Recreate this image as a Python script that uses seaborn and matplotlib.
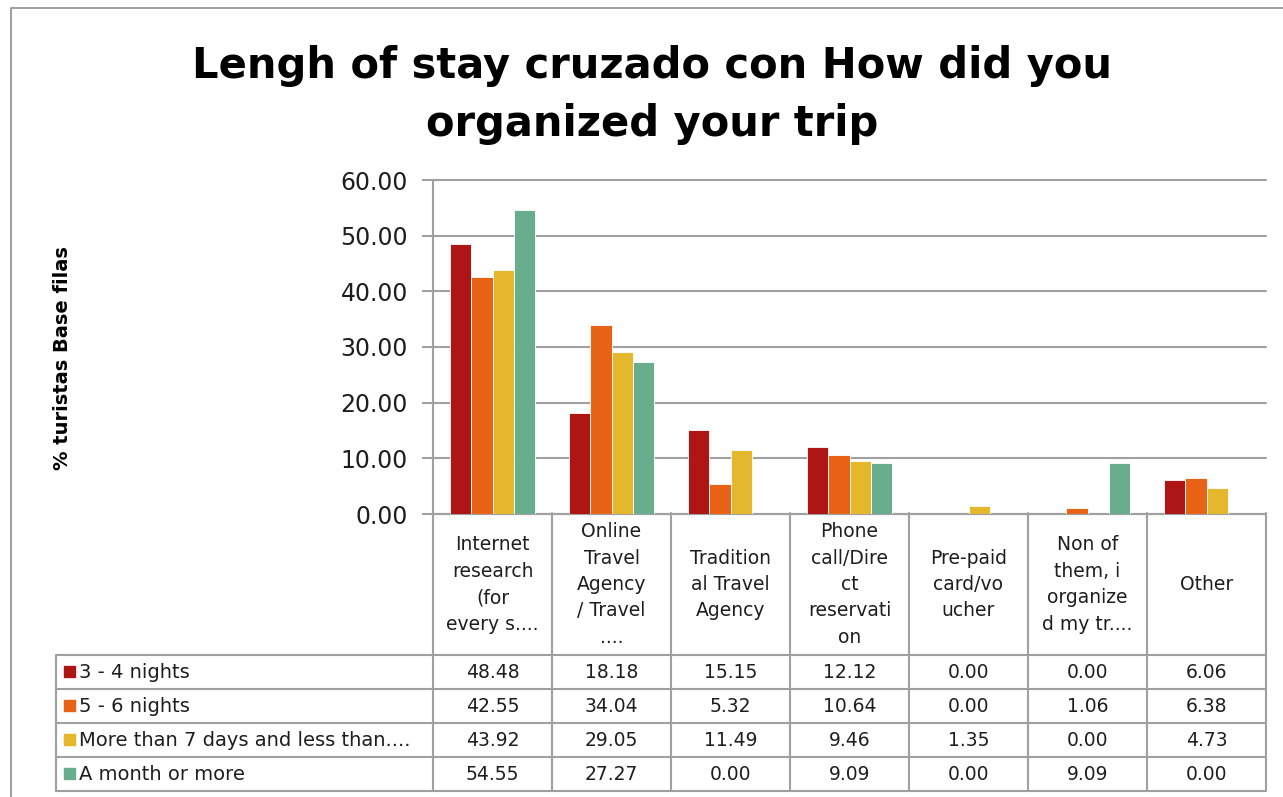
import numpy as np
import pandas as pd
import seaborn as sns
import matplotlib
matplotlib.use("Agg")
import matplotlib.pyplot as plt

categorias = ["Internet research (for every s....", "Online Travel Agency / Travel ....",
              "Traditional Travel Agency", "Phone call/Direct reservation",
              "Pre-paid card/voucher", "Non of them, i organized my tr....", "Other"]
etiquetas_cat = ["Internet\nresearch\n(for\nevery s....", "Online\nTravel\nAgency\n/ Travel\n....",
                 "Tradition\nal Travel\nAgency", "Phone\ncall/Dire\nct\nreservati\non",
                 "Pre-paid\ncard/vo\nucher", "Non of\nthem, i\norganize\nd my tr....", "Other"]
series = ["3 - 4 nights", "5 - 6 nights", "More than 7 days and less than....", "A month or more"]
noches_3_4 = [48.48, 18.18, 15.15, 12.12, 0.00, 0.00, 6.06]
noches_5_6 = [42.55, 34.04, 5.32, 10.64, 0.00, 1.06, 6.38]
mas_7_dias = [43.92, 29.05, 11.49, 9.46, 1.35, 0.00, 4.73]
un_mes = [54.55, 27.27, 0.00, 9.09, 0.00, 9.09, 0.00]
valores = [noches_3_4, noches_5_6, mas_7_dias, un_mes]
colores = ["#AE1616", "#E96316", "#E5B72C", "#69AD8F"]

df = pd.DataFrame({
    "cat": np.tile(categorias, len(series)),
    "serie": np.repeat(series, len(categorias)),
    "valor": np.concatenate(valores),
})

sns.set_style("white")
plt.rcParams["font.family"] = ["DejaVu Sans"]

W, H = 1283, 797
fig = plt.figure(figsize=(W / 100, H / 100), dpi=100)
gris = "#A0A0A0"
texto = "#1E1E1E"

# area del grafico en pixeles
x0, x1, ytop, ybot = 433, 1266, 180, 514
ax = fig.add_axes([x0 / W, (H - ybot) / H, (x1 - x0) / W, (ybot - ytop) / H])
sns.barplot(data=df, x="cat", y="valor", hue="serie", order=categorias, hue_order=series,
            palette=colores, saturation=1, width=0.72, gap=0, edgecolor="white", linewidth=0.6,
            legend=False, ax=ax, zorder=3)
ax.set_ylim(0, 60)
ax.set_xlim(-0.5, len(categorias) - 0.5)
ax.set_yticks(np.arange(0, 61, 10))
ax.set_yticklabels([f"{v:.2f}" for v in np.arange(0, 61, 10)], fontsize=17, color=texto)
ax.set_xticks([])
ax.set_xlabel("")
ax.set_ylabel("")
ax.yaxis.grid(True, color=gris, linewidth=1.5, zorder=0)
for gl in ax.get_ygridlines():
    gl.set_clip_on(False)
ax.set_axisbelow(True)
for s in ["top", "right"]:
    ax.spines[s].set_visible(False)
for s in ["left", "bottom"]:
    ax.spines[s].set_color(gris)
    ax.spines[s].set_linewidth(1.5)
ax.tick_params(axis="y", length=8, width=1.5, color=gris, pad=10, left=True)

# capa en pixeles para tabla, titulo y bordes
ov = fig.add_axes([0, 0, 1, 1], zorder=5)
ov.set_xlim(0, W)
ov.set_ylim(H, 0)
ov.axis("off")
ov.patch.set_visible(False)

# borde exterior
ov.plot([11, 11, W], [H, 8, 8], color="#8C8C8C", lw=1.2)

ov.text(652, 78, "Lengh of stay cruzado con How did you", ha="center", va="baseline",
        fontsize=30, fontweight="bold", color="black")
ov.text(652, 136, "organized your trip", ha="center", va="baseline",
        fontsize=30, fontweight="bold", color="black")

fig.text(62 / W, 1 - 358 / H, "% turistas Base filas", rotation=90, ha="center", va="center",
         fontsize=14, fontweight="bold", color="black")

# tabla de datos
cw = (x1 - x0) / len(categorias)
filas = [655, 689, 723, 757, 791]
xl = 56
for k in range(len(categorias) + 1):
    ov.plot([x0 + k * cw] * 2, [ybot - 1, filas[-1]], color=gris, lw=1.5)
ov.plot([xl, xl], [filas[0], filas[-1]], color=gris, lw=1.5)
for y in filas:
    ov.plot([xl, x1], [y, y], color=gris, lw=1.5)

for k, lab in enumerate(etiquetas_cat):
    ov.text(x0 + (k + 0.5) * cw, (ybot + filas[0]) / 2, lab, ha="center", va="center",
            fontsize=13.5, color=texto, linespacing=1.5)

for i, (nombre, vals) in enumerate(zip(series, valores)):
    yc = (filas[i] + filas[i + 1]) / 2
    ov.add_patch(plt.Rectangle((64, yc - 6), 11, 11, color=colores[i]))
    ov.text(79, yc, nombre, ha="left", va="center", fontsize=14, color=texto)
    for k, v in enumerate(vals):
        ov.text(x0 + (k + 0.5) * cw, yc, f"{v:.2f}", ha="center", va="center",
                fontsize=13.5, color=texto)

fig.savefig("out.png", dpi=100)
